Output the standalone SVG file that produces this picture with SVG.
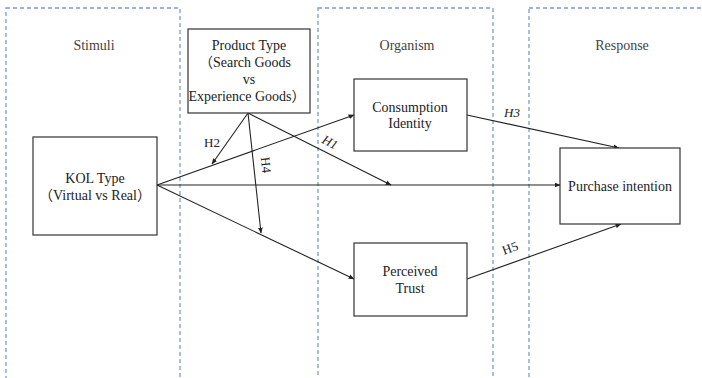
<svg xmlns="http://www.w3.org/2000/svg" width="702" height="378" viewBox="0 0 702 378">
  <style>
    .panel { fill: none; stroke: #7f9acb; stroke-width: 1.3; stroke-dasharray: 4 3; }
    .stage { font-family: "Liberation Serif", "Times New Roman", serif; font-size: 14px; fill: #444; text-anchor: middle; }
    .box { fill: #fff; stroke: #333; stroke-width: 1.2; }
    .txt { font-family: "Liberation Serif", "Noto Sans CJK SC", serif; font-size: 14px; fill: #222; text-anchor: middle; }
    .edge { stroke: #222; stroke-width: 1.1; fill: none; marker-end: url(#arrow); }
    .lbl { font-family: "Liberation Serif", "Times New Roman", serif; font-size: 13px; fill: #222; text-anchor: middle; }
    .it { font-style: italic; }
  </style>
  <defs>
    <marker id="arrow" viewBox="0 0 10 10" refX="9" refY="5" markerWidth="6" markerHeight="6" markerUnits="userSpaceOnUse" orient="auto">
      <path d="M0,1 L10,5 L0,9 z" fill="#222"/>
    </marker>
  </defs>

  <rect width="702" height="378" fill="#fff"/>

  <!-- S-O-R stage panels -->
  <g id="panels">
    <rect class="panel" x="6" y="8" width="174" height="390"/>
    <rect class="panel" x="318" y="8" width="175" height="390"/>
    <rect class="panel" x="529" y="8" width="190" height="390"/>
    <text class="stage" x="94" y="50">Stimuli</text>
    <text class="stage" x="407" y="50">Organism</text>
    <text class="stage" x="622" y="50">Response</text>
  </g>

  <!-- connectors -->
  <g id="connectors">
    <line class="edge" x1="157" y1="185" x2="354" y2="115"/>
    <line class="edge" x1="157" y1="185" x2="560" y2="185"/>
    <line class="edge" x1="157" y1="185" x2="354" y2="279"/>
    <line class="edge" x1="248" y1="113" x2="212" y2="164"/>
    <line class="edge" x1="248" y1="113" x2="261" y2="233"/>
    <line class="edge" x1="248" y1="113" x2="391" y2="185"/>
    <line class="edge" x1="467" y1="115" x2="619" y2="148"/>
    <line class="edge" x1="467" y1="279" x2="621" y2="224"/>
    <text class="lbl" x="212" y="147">H2</text>
    <text class="lbl" transform="translate(266,165) rotate(84)" y="4.5">H4</text>
    <text class="lbl it" transform="translate(330,142) rotate(27)" y="4.5">H1</text>
    <text class="lbl it" x="512" y="117">H3</text>
    <text class="lbl" transform="translate(510,248) rotate(-20)" y="4.5">H5</text>
  </g>

  <g id="product-type">
    <rect class="box" x="188" y="29" width="122" height="84"/>
    <text class="txt" x="249" y="50">Product Type</text>
    <text class="txt" x="245" y="67">（Search Goods</text>
    <text class="txt" x="249" y="84">vs</text>
    <text class="txt" x="247" y="101">Experience Goods）</text>
  </g>

  <g id="kol-type">
    <rect class="box" x="33" y="137" width="124" height="98"/>
    <text class="txt" x="95" y="183">KOL Type</text>
    <text class="txt" x="95" y="200">（Virtual vs Real）</text>
  </g>

  <g id="consumption-identity">
    <rect class="box" x="354" y="79" width="113" height="72"/>
    <text class="txt" x="410" y="112">Consumption</text>
    <text class="txt" x="410" y="128">Identity</text>
  </g>

  <g id="perceived-trust">
    <rect class="box" x="354" y="243" width="113" height="73"/>
    <text class="txt" x="410" y="276">Perceived</text>
    <text class="txt" x="410" y="293">Trust</text>
  </g>

  <g id="purchase-intention">
    <rect class="box" x="560" y="148" width="120" height="76"/>
    <text class="txt" x="620" y="191">Purchase intention</text>
  </g>
</svg>
